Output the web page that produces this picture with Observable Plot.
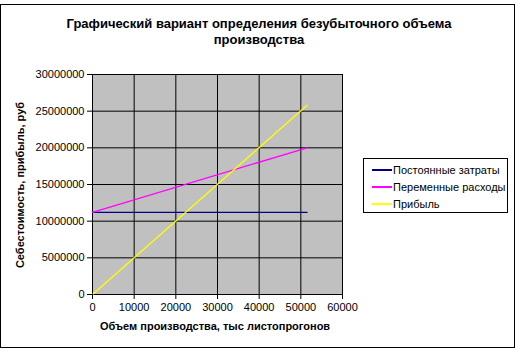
<!DOCTYPE html>
<html>
<head>
<meta charset="utf-8">
<script src="https://cdn.jsdelivr.net/npm/d3@7"></script>
<script src="https://cdn.jsdelivr.net/npm/@observablehq/plot@0.6"></script>
<style>
  body { margin: 0; background: #fff; font-family: "Liberation Sans", Arial, sans-serif; }
  #wrap { position: relative; width: 518px; height: 352px; overflow: hidden; }
  #wrap svg { position: absolute; left: 0; top: 0; }
  .border { position: absolute; left: 0; top: 4px; width: 515px; height: 344px; box-sizing: border-box; border: 1px solid #000; }
  .title { position: absolute; left: 0; width: 518px; top: 16px; text-align: center; font-weight: bold; font-size: 13px; line-height: 16px; color: #000; }
  .xlabel { position: absolute; left: 60px; width: 310px; top: 320px; text-align: center; font-weight: bold; font-size: 11px; }
  .ylabel { position: absolute; left: 20px; top: 185px; transform: translate(-50%, -50%) rotate(-90deg); white-space: nowrap; font-weight: bold; font-size: 11px; }
  .legend { position: absolute; left: 363px; top: 158px; width: 145px; height: 55px; box-sizing: border-box; border: 1px solid #000; font-size: 11px; }
  .legend .row { position: absolute; left: 8px; height: 14px; display: flex; align-items: center; white-space: nowrap; }
  .legend .sw { display: inline-block; width: 20px; height: 2px; margin-right: 1px; }
</style>
</head>
<body>
<div id="wrap">
  <div class="border"></div>
  <div class="title">Графический вариант определения безубыточного объема<br>производства</div>
</div>
<script>
// Data
const xValues = [0, 51500];
const fixedCosts = [11200000, 11200000];      // Постоянные затраты
const variableCosts = [11200000, 20000000];   // Переменные расходы
const profit = [0, 25800000];                 // Прибыль
const seriesNames = ["Постоянные затраты", "Переменные расходы", "Прибыль"];
const seriesColors = ["#000080", "#ff00ff", "#ffff00"];
const xTicks = [0, 10000, 20000, 30000, 40000, 50000, 60000];
const yTicks = [0, 5000000, 10000000, 15000000, 20000000, 25000000, 30000000];
const xLabel = "Объем производства, тыс листопрогонов";
const yLabel = "Себестоимость, прибыль, руб";

const seriesValues = [fixedCosts, variableCosts, profit];
const rows = [];
seriesValues.forEach((vals, s) => vals.forEach((v, i) => rows.push({series: seriesNames[s], x: xValues[i], y: v})));

const fmt = d => String(d);

const chart = Plot.plot({
  width: 518,
  height: 352,
  marginLeft: 92,
  marginRight: 176,
  marginTop: 74,
  marginBottom: 58,
  style: { fontFamily: '"Liberation Sans", Arial, sans-serif', fontSize: "11px", background: "transparent", overflow: "visible" },
  x: { domain: [0, 60000], ticks: xTicks, label: null },
  y: { domain: [0, 30000000], ticks: yTicks, label: null },
  color: { domain: seriesNames, range: seriesColors },
  marks: [
    Plot.frame({ fill: "#c0c0c0", stroke: "#808080" }),
    Plot.gridX(xTicks, { stroke: "#000", strokeOpacity: 1, strokeWidth: 1 }),
    Plot.gridY(yTicks, { stroke: "#000", strokeOpacity: 1, strokeWidth: 1 }),
    Plot.ruleX([0], { stroke: "#000" }),
    Plot.ruleY([0], { stroke: "#000" }),
    Plot.line(rows, { x: "x", y: "y", z: "series", stroke: "series", strokeWidth: 1.3 }),
    Plot.axisX(xTicks, { tickSize: 5, tickPadding: 4, tickFormat: fmt, fill: "#000", stroke: "#000", strokeOpacity: 1, label: null }),
    Plot.axisY(yTicks, { tickSize: 5, tickPadding: 3, tickFormat: fmt, fill: "#000", stroke: "#000", strokeOpacity: 1, label: null })
  ]
});
const wrap = document.getElementById("wrap");
wrap.insertBefore(chart, wrap.firstChild.nextSibling);

const xl = document.createElement("div"); xl.className = "xlabel"; xl.textContent = xLabel; wrap.appendChild(xl);
const yl = document.createElement("div"); yl.className = "ylabel"; yl.textContent = yLabel; wrap.appendChild(yl);
const lg = document.createElement("div"); lg.className = "legend";
seriesNames.forEach((n, i) => {
  const r = document.createElement("div"); r.className = "row"; r.style.top = (4 + i * 17) + "px";
  const sw = document.createElement("span"); sw.className = "sw"; sw.style.background = seriesColors[i];
  const t = document.createElement("span"); t.textContent = n;
  r.appendChild(sw); r.appendChild(t); lg.appendChild(r);
});
wrap.appendChild(lg);
</script>
</body>
</html>
